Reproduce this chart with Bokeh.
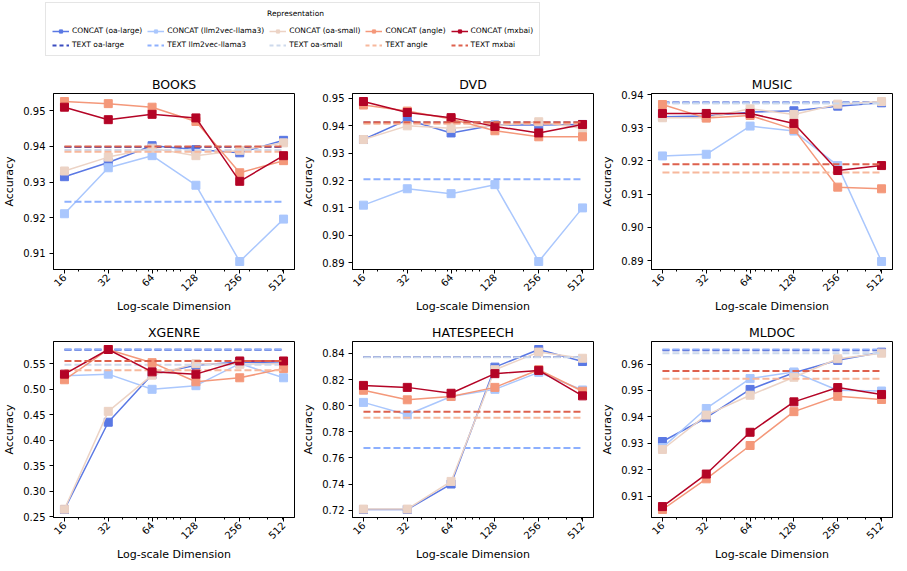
import math
from bokeh.plotting import figure
from bokeh.layouts import column, row
from bokeh.models import (Range1d, FixedTicker, SingleIntervalTicker, PrintfTickFormatter,
                          Legend, LegendItem, Label)
from bokeh.embed import file_html
from bokeh.resources import INLINE

# ---------------- data ----------------
dims = [16, 32, 64, 128, 256, 512]
model_names = ["oa-large", "llm2vec-llama3", "oa-small", "angle", "mxbai"]
concat_labels = ["CONCAT (oa-large)", "CONCAT (llm2vec-llama3)", "CONCAT (oa-small)",
                 "CONCAT (angle)", "CONCAT (mxbai)"]
text_labels = ["TEXT oa-large", "TEXT llm2vec-llama3", "TEXT oa-small", "TEXT angle", "TEXT mxbai"]
datasets = ["BOOKS", "DVD", "MUSIC", "XGENRE", "HATESPEECH", "MLDOC"]
y_tick_steps = [0.01, 0.01, 0.01, 0.05, 0.02, 0.01]

books_concat = [
    [0.9315, 0.9355, 0.9402, 0.9391, 0.9382, 0.9417],
    [0.9211, 0.9340, 0.9374, 0.9291, 0.9077, 0.9196],
    [0.9331, 0.9370, 0.9395, 0.9374, 0.9389, 0.9410],
    [0.9526, 0.9520, 0.9510, 0.9470, 0.9326, 0.9360],
    [0.9510, 0.9475, 0.9490, 0.9480, 0.9302, 0.9374],
]
books_text = [0.9398, 0.9245, 0.9390, 0.9385, 0.9400]

dvd_concat = [
    [0.9350, 0.9422, 0.9374, 0.9403, 0.9403, 0.9405],
    [0.9110, 0.9170, 0.9152, 0.9185, 0.8904, 0.9100],
    [0.9350, 0.9400, 0.9391, 0.9400, 0.9415, 0.9390],
    [0.9476, 0.9454, 0.9425, 0.9382, 0.9360, 0.9360],
    [0.9489, 0.9449, 0.9430, 0.9398, 0.9374, 0.9405],
]
dvd_text = [0.9412, 0.9205, 0.9410, 0.9408, 0.9413]

music_concat = [
    [0.9333, 0.9335, 0.9347, 0.9351, 0.9365, 0.9375],
    [0.9215, 0.9220, 0.9305, 0.9290, 0.9186, 0.8897],
    [0.9330, 0.9330, 0.9357, 0.9340, 0.9371, 0.9379],
    [0.9370, 0.9329, 0.9337, 0.9295, 0.9121, 0.9116],
    [0.9343, 0.9343, 0.9343, 0.9313, 0.9171, 0.9186],
]
music_text = [0.9376, 0.9375, 0.9373, 0.9165, 0.9190]

xgenre_concat = [
    [0.2642, 0.4352, 0.5287, 0.5468, 0.5530, 0.5510],
    [0.5261, 0.5294, 0.4997, 0.5068, 0.5500, 0.5223],
    [0.2648, 0.4565, 0.5274, 0.5500, 0.5487, 0.5500],
    [0.5184, 0.5777, 0.5519, 0.5145, 0.5223, 0.5403],
    [0.5294, 0.5777, 0.5339, 0.5294, 0.5552, 0.5552],
]
xgenre_text = [0.5770, 0.5777, 0.5480, 0.5370, 0.5552]

hatespeech_concat = [
    [0.7205, 0.7205, 0.7400, 0.8295, 0.8430, 0.8338],
    [0.8025, 0.7930, 0.8070, 0.8125, 0.8255, 0.8120],
    [0.7208, 0.7208, 0.7420, 0.8275, 0.8410, 0.8363],
    [0.8118, 0.8045, 0.8070, 0.8140, 0.8275, 0.8110],
    [0.8155, 0.8140, 0.8095, 0.8245, 0.8270, 0.8075],
]
hatespeech_text = [0.8372, 0.7675, 0.8370, 0.7908, 0.7953]

mldoc_concat = [
    [0.9307, 0.9397, 0.9504, 0.9567, 0.9614, 0.9645],
    [0.9284, 0.9432, 0.9545, 0.9570, 0.9501, 0.9498],
    [0.9277, 0.9407, 0.9482, 0.9550, 0.9620, 0.9641],
    [0.9050, 0.9166, 0.9292, 0.9420, 0.9478, 0.9466],
    [0.9061, 0.9184, 0.9342, 0.9457, 0.9511, 0.9485],
]
mldoc_text = [0.9652, 0.9655, 0.9641, 0.9544, 0.9574]

all_concat = [books_concat, dvd_concat, music_concat, xgenre_concat, hatespeech_concat, mldoc_concat]
all_text = [books_text, dvd_text, music_text, xgenre_text, hatespeech_text, mldoc_text]

# ---------------- style ----------------
FONT = "DejaVu Sans"
concat_colors = ["#5a78e4", "#aac7fd", "#ecd3c5", "#f4987a", "#b40426"]
text_colors = ["#3b4cc0", "#8db0fe", "#cdd9ec", "#f7b89c", "#de614d"]
minor_x = [20, 30, 40, 50, 60, 70, 80, 90, 100, 200, 300, 400, 500]
FW, FH = 241, 176
DASH = "7 3"


def make_panel(idx, col, top_row):
    name = datasets[idx]
    concat = all_concat[idx]
    text = all_text[idx]
    vals = [v for s in concat for v in s] + list(text)
    lo, hi = min(vals), max(vals)
    pad = 0.05 * (hi - lo)
    l0, l1 = math.log2(dims[0]), math.log2(dims[-1])
    xpad = 0.05 * (l1 - l0)
    p = figure(x_axis_type="log",
               x_range=Range1d(2 ** (l0 - xpad), 2 ** (l1 + xpad)),
               y_range=Range1d(lo - pad, hi + pad),
               frame_width=FW, frame_height=FH,
               output_backend="svg", toolbar_location=None, title=name,
               min_border_left=52, min_border_right=[5, 5, 2][col],
               min_border_top=36 if top_row else 26,
               min_border_bottom=40)
    p.title.text_font = FONT
    p.title.text_font_style = "normal"
    p.title.text_font_size = "12.5px"
    p.title.text_color = "black"
    p.title.align = "center"
    p.title.standoff = 4
    p.grid.visible = False
    p.outline_line_color = "black"
    p.outline_line_width = 1
    p.outline_line_alpha = 1.0
    p.background_fill_color = "white"
    p.border_fill_color = "white"

    p.xaxis.ticker = FixedTicker(ticks=dims, minor_ticks=minor_x)
    p.xaxis.formatter = PrintfTickFormatter(format="%d")
    p.xaxis.major_label_orientation = math.pi / 4
    p.xaxis.axis_label = "Log-scale Dimension"
    p.yaxis.ticker = SingleIntervalTicker(interval=y_tick_steps[idx], num_minor_ticks=0)
    p.yaxis.formatter = PrintfTickFormatter(format="%.2f")
    p.yaxis.axis_label = "Accuracy"
    for ax in (p.xaxis, p.yaxis):
        ax.axis_line_color = "black"
        ax.major_tick_line_color = "black"
        ax.minor_tick_line_color = "black"
        ax.major_tick_out = 4
        ax.major_tick_in = 0
        ax.minor_tick_out = 2
        ax.minor_tick_in = 0
        ax.major_label_text_font = FONT
        ax.major_label_text_font_size = "10px"
        ax.major_label_text_color = "black"
        ax.axis_label_text_font = FONT
        ax.axis_label_text_font_size = "11px"
        ax.axis_label_text_font_style = "normal"
        ax.axis_label_text_color = "black"
    p.xaxis.major_label_standoff = 2
    p.xaxis.axis_label_standoff = 2
    p.yaxis.major_label_standoff = 4
    p.yaxis.axis_label_standoff = 4

    for m in range(len(model_names)):
        p.line(dims, concat[m], color=concat_colors[m], line_width=1.5)
        p.scatter(dims, concat[m], marker="square", size=8, color=concat_colors[m])
        p.line([dims[0], dims[-1]], [text[m], text[m]], color=text_colors[m],
               line_width=2, line_dash=DASH)
    return p


panels = [make_panel(i, i % 3, i < 3) for i in range(6)]

# ---------------- legend strip ----------------
LW = 52 + FW + 5 + 52 + FW + 5 + 52 + FW + 2
LH = 57
lf = figure(width=LW, height=LH, output_backend="svg", toolbar_location=None,
            x_axis_location=None, y_axis_location=None, min_border=0,
            x_range=Range1d(0, 1), y_range=Range1d(0, 1))
lf.outline_line_color = None
lf.grid.visible = False
lf.add_layout(Label(x=45 + 250, y=LH - 8, x_units="screen", y_units="screen",
                    text="Representation", text_align="center", text_baseline="top",
                    text_font=FONT, text_font_size="7.5px", text_color="black"))
items = []
for m in range(len(model_names)):
    # renderers only serve the legend; their data lie outside this strip's range
    r1 = lf.line(x=dims, y=books_concat[m], color=concat_colors[m], line_width=1.5)
    r2 = lf.scatter(x=dims, y=books_concat[m], marker="square", size=6, color=concat_colors[m])
    items.append(LegendItem(label=concat_labels[m], renderers=[r1, r2]))
    r3 = lf.line(x=[dims[0], dims[-1]], y=[books_text[m], books_text[m]], color=text_colors[m],
                 line_width=2, line_dash="4 3")
    items.append(LegendItem(label=text_labels[m], renderers=[r3]))
leg = Legend(items=items, orientation="vertical", nrows=2, location=(45, 1),
             title=" ", title_text_font_size="7.5px", title_standoff=8,
             label_text_font=FONT, label_text_font_size="7.5px", label_text_color="black",
             glyph_width=17, glyph_height=8, label_height=8, label_width=10,
             label_standoff=3, spacing=5, padding=6, margin=0,
             border_line_color="#cccccc", border_line_width=1,
             background_fill_alpha=0.0)
lf.add_layout(leg, "center")

layout = column(lf, row(*panels[:3]), row(*panels[3:]))
open("out.html", "w").write(file_html(layout, INLINE))
